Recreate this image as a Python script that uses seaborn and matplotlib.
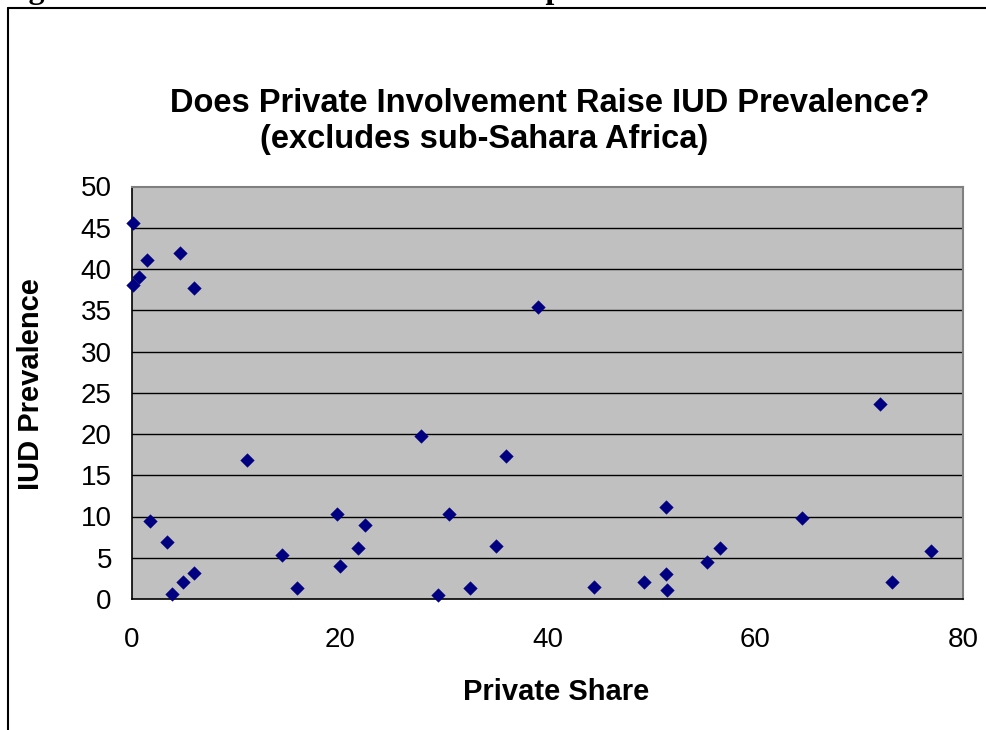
import numpy as np
import pandas as pd
import seaborn as sns
import matplotlib.pyplot as plt
from matplotlib.lines import Line2D

# Private share of contraceptive supply vs. IUD prevalence (countries outside sub-Saharan Africa)
private_share = [0.13, 1.47, 4.62, 0.67, 0.13, 5.97, 11.04, 1.77, 3.40, 3.88,
                 4.94, 5.97, 14.4, 15.85, 19.7, 20.0, 21.75, 22.4, 39.05, 27.85,
                 36.0, 30.5, 35.0, 29.45, 32.5, 44.5, 49.3, 51.4, 51.4, 51.5,
                 72.0, 64.5, 56.6, 55.4, 73.15, 76.95]
iud_prevalence = [45.6, 41.1, 42.0, 39.0, 38.1, 37.7, 16.9, 9.4, 6.86, 0.6,
                  2.1, 3.2, 5.3, 1.3, 10.3, 4.0, 6.2, 9.0, 35.35, 19.7,
                  17.35, 10.3, 6.4, 0.5, 1.3, 1.5, 2.1, 11.1, 3.0, 1.1,
                  23.6, 9.85, 6.2, 4.5, 2.1, 5.8]
x_ticks = [0, 20, 40, 60, 80]
y_ticks = [0, 5, 10, 15, 20, 25, 30, 35, 40, 45, 50]

title_line1 = "Does Private Involvement Raise IUD Prevalence?"
title_line2 = "(excludes sub-Sahara Africa)"
caption = "Figure 3: Private Involvement and IUD prevalence"

df = pd.DataFrame({"Private Share": private_share, "IUD Prevalence": iud_prevalence})

sns.set_style("white")
plt.rcParams["font.family"] = ["Liberation Sans", "DejaVu Sans"]
plt.rcParams["text.color"] = "black"
plt.rcParams["xtick.color"] = "black"
plt.rcParams["ytick.color"] = "black"

W, H = 987, 730
fig = plt.figure(figsize=(W / 100, H / 100), dpi=100)
fig.patch.set_facecolor("white")

# plot area in pixel terms
left, right, top, bottom = 132, 963, 186.5, 599
ax = fig.add_axes([left / W, (H - bottom) / H, (right - left) / W, (bottom - top) / H])
ax.set_facecolor("#C0C0C0")

# horizontal gridlines
for yv in y_ticks[1:-1]:
    ax.axhline(yv, color="black", lw=1.0, zorder=1)

sns.scatterplot(data=df, x="Private Share", y="IUD Prevalence", ax=ax,
                marker="D", s=48, color="#000080", edgecolor="#000080",
                linewidth=0.3, zorder=3, clip_on=False)

ax.set_xlim(0, 80)
ax.set_ylim(0, 50)
ax.set_xticks(x_ticks)
ax.set_yticks(y_ticks)
ax.set_xticklabels([str(v) for v in x_ticks])
ax.set_yticklabels([str(v) for v in y_ticks])
ax.set_xlabel("")
ax.set_ylabel("")
ax.tick_params(axis="both", labelsize=20, labelcolor="black", colors="black",
               direction="out", length=6.5, width=1.0)
ax.tick_params(axis="y", pad=8)
ax.tick_params(axis="x", pad=14)

for side in ("left", "bottom"):
    ax.spines[side].set_color("black")
    ax.spines[side].set_linewidth(1.2)
for side in ("top", "right"):
    ax.spines[side].set_color("#808080")
    ax.spines[side].set_linewidth(1.5)
    ax.spines[side].set_visible(True)

# chart-area frame
fig.add_artist(Line2D([8 / W, 8 / W], [0, (H - 8) / H], transform=fig.transFigure,
                      color="black", lw=1.5))
fig.add_artist(Line2D([8 / W, 1.0], [(H - 8) / H, (H - 8) / H], transform=fig.transFigure,
                      color="black", lw=1.5))

# document caption above the chart
fig.text(0 / W, (H + 2) / H, caption, family=["Liberation Serif", "DejaVu Serif"],
         weight="bold", fontsize=23, ha="left", va="baseline", color="black")

# chart title
fig.text(550 / W, (H - 112) / H, title_line1, ha="center", va="baseline",
         fontsize=23.5, weight="bold", color="black")
fig.text(484 / W, (H - 148) / H, title_line2, ha="center", va="baseline",
         fontsize=23.5, weight="bold", color="black")

# axis titles
fig.text(556 / W, (H - 700) / H, "Private Share", ha="center", va="baseline",
         fontsize=21, weight="bold", color="black")
fig.text(31 / W, (H - 384) / H, "IUD Prevalence", ha="center", va="center",
         rotation=90, fontsize=21, weight="bold", color="black")

fig.savefig("out.png", dpi=100)
